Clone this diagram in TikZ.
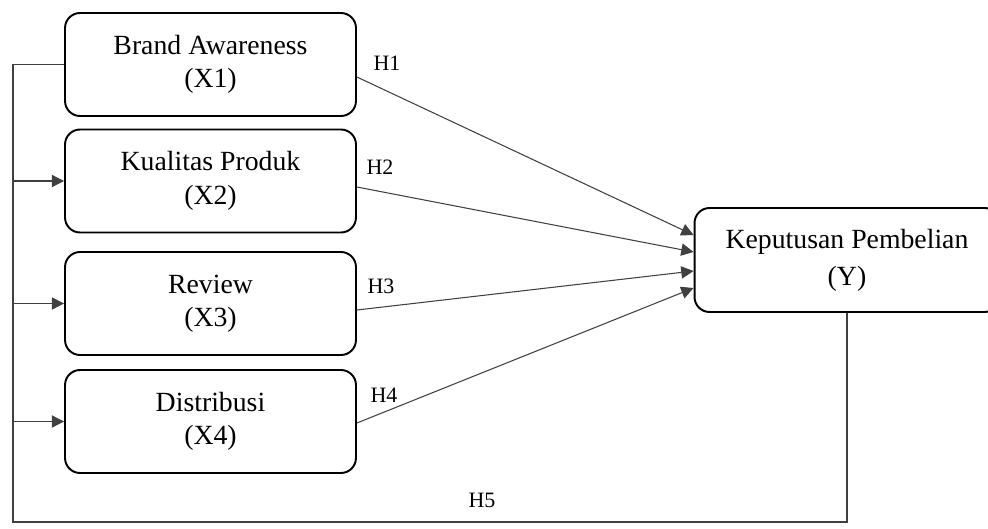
\documentclass[tikz,border=0pt]{standalone}
\usepackage{fontspec}
\setmainfont{Liberation Serif}
\usetikzlibrary{arrows.meta}
\tikzset{
  varbox/.style={draw, line width=1.1pt, rounded corners=0.3cm, minimum width=5.82cm,
    minimum height=2.06cm, align=center, inner sep=0pt,
    font=\fontsize{15.8}{19}\selectfont},
  hlabel/.style={font=\fontsize{12.5}{14}\selectfont},
  link/.style={line width=0.6pt, draw=black!75, -{Triangle[length=7pt,width=7pt]}}
}
\begin{document}
\begin{tikzpicture}[x=0.02cm, y=-0.02cm]
\useasboundingbox (0,0) rectangle (988,528);

\node[varbox] (X1) at (210.5,64.5) {Brand Awareness\\(X1)};
\node[varbox] (X2) at (210.5,181) {Kualitas Produk\\(X2)};
\node[varbox] (X3) at (210.5,303.5) {Review\\(X3)};
\node[varbox] (X4) at (210.5,421.5) {Distribusi\\(X4)};
\node[varbox, minimum width=6.1cm, minimum height=2.08cm,
  font=\fontsize{15.8}{21}\selectfont] (Y) at (847,260) {Keputusan Pembelian\\(Y)};

\draw[link] ([yshift=-0.25cm]X1.east) -- ([yshift=0.5cm]Y.west);
\draw[link] ([yshift=-0.12cm]X2.east) -- ([yshift=0.16cm]Y.west);
\draw[link] ([yshift=-0.13cm]X3.east) -- ([yshift=-0.22cm]Y.west);
\draw[link] ([yshift=-0.03cm]X4.east) -- ([yshift=-0.56cm]Y.west);

\coordinate (bl) at (13,522);
\draw[line width=0.6pt, draw=black!75] (X1.west) -| (bl) -| (Y.south);
\draw[link] (bl |- X2.west) -- (X2.west);
\draw[link] (bl |- X3.west) -- (X3.west);
\draw[link] (bl |- X4.west) -- (X4.west);

\node[hlabel] (h1) at (387,63) {H1};
\node[hlabel] (h2) at (380,167) {H2};
\node[hlabel] (h3) at (381,286) {H3};
\node[hlabel] (h4) at (384,395) {H4};
\node[hlabel] (h5) at (482,500) {H5};
\end{tikzpicture}
\end{document}
